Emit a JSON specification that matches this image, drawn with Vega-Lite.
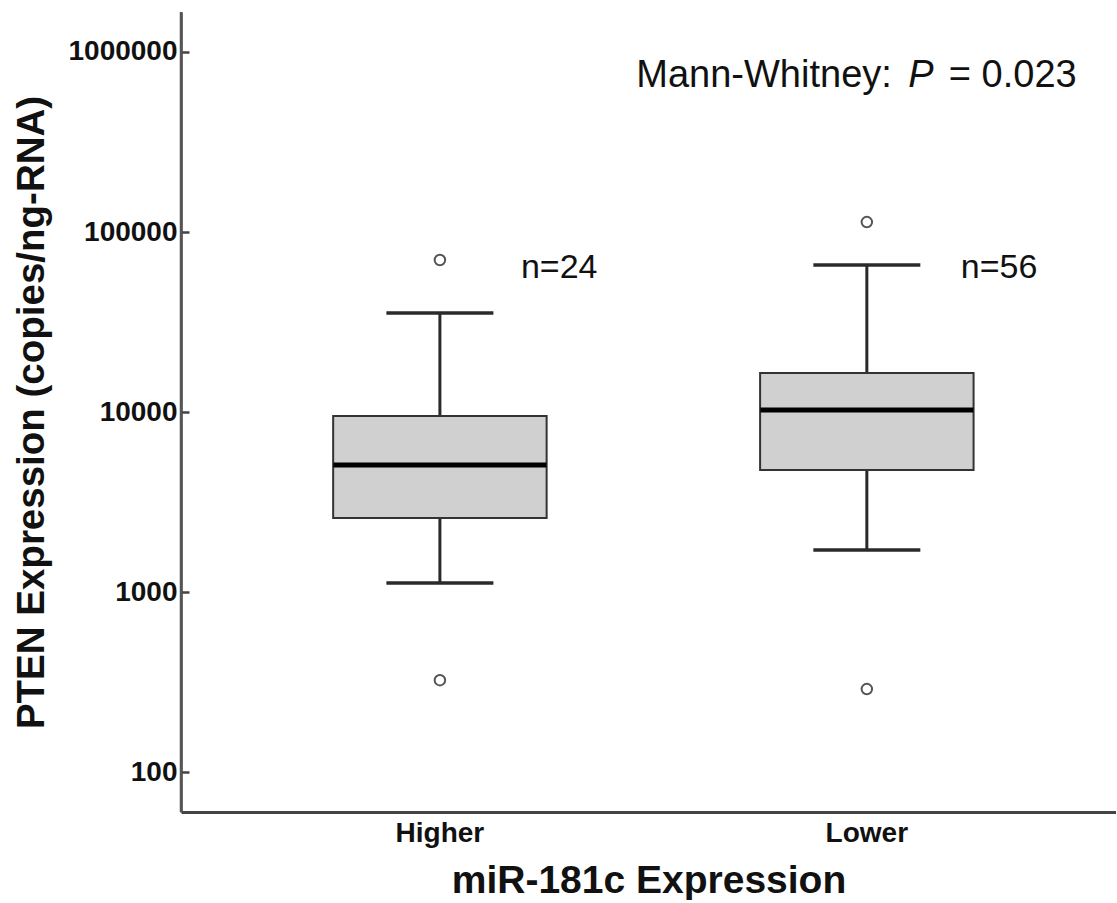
{
  "$schema": "https://vega.github.io/schema/vega-lite/v6.json",
  "width": 935,
  "height": 800,
  "padding": {"left": 12, "top": 10, "right": 0, "bottom": 0},
  "autosize": {"type": "pad"},
  "background": "white",
  "config": {
    "view": {"stroke": null},
    "font": "Liberation Sans",
    "axisY": {
      "grid": false,
      "labelFontSize": 28,
      "labelFontWeight": "bold",
      "labelColor": "#111111",
      "domainColor": "#444444",
      "domainWidth": 2.5,
      "tickColor": "#444444",
      "tickWidth": 2.5,
      "tickSize": -8,
      "labelPadding": 12,
      "titleFontSize": 38.5,
      "titleFontWeight": "bold",
      "titleColor": "#111111",
      "titlePadding": 16
    },
    "axisX": {
      "grid": false,
      "ticks": false,
      "labelAngle": 0,
      "labelFontSize": 28,
      "labelFontWeight": "bold",
      "labelColor": "#111111",
      "labelPadding": 7,
      "domainColor": "#444444",
      "domainWidth": 3,
      "titleFontSize": 39,
      "titleFontWeight": "bold",
      "titleColor": "#111111",
      "titlePadding": 14
    }
  },
  "datasets": {
    "stats": [
      {"group": "Higher", "lower": 1122, "q1": 2577, "median": 5080, "q3": 9506, "upper": 35481, "n": 24},
      {"group": "Lower", "lower": 1710, "q1": 4760, "median": 10260, "q3": 16480, "upper": 65600, "n": 56}
    ],
    "outliers": [
      {"group": "Higher", "value": 69900},
      {"group": "Higher", "value": 324},
      {"group": "Lower", "value": 113600},
      {"group": "Lower", "value": 289}
    ],
    "annotation": [
      {"test": "Mann-Whitney", "p": "0.023"}
    ]
  },
  "encoding": {
    "x": {
      "field": "group",
      "type": "nominal",
      "title": "miR-181c Expression",
      "scale": {"type": "band", "domain": ["Higher", "Lower"], "paddingInner": 0, "paddingOuter": 0.095, "align": 0.56}
    }
  },
  "layer": [
    {
      "data": {"name": "stats"},
      "mark": {"type": "rule", "stroke": "#2a2a2a", "strokeWidth": 3},
      "encoding": {
        "y": {
          "field": "lower",
          "type": "quantitative",
          "title": "PTEN Expression (copies/ng-RNA)",
          "scale": {"type": "log", "domain": [60, 1668000], "nice": false},
          "axis": {"values": [100, 1000, 10000, 100000, 1000000], "format": "d"}
        },
        "y2": {"field": "upper"}
      }
    },
    {
      "data": {"name": "stats"},
      "mark": {"type": "tick", "color": "#2a2a2a", "opacity": 1, "size": 107, "thickness": 3.5},
      "encoding": {
        "y": {"field": "upper", "type": "quantitative", "title": "PTEN Expression (copies/ng-RNA)"}
      }
    },
    {
      "data": {"name": "stats"},
      "mark": {"type": "tick", "color": "#2a2a2a", "opacity": 1, "size": 107, "thickness": 3.5},
      "encoding": {
        "y": {"field": "lower", "type": "quantitative", "title": "PTEN Expression (copies/ng-RNA)"}
      }
    },
    {
      "data": {"name": "stats"},
      "mark": {"type": "bar", "fill": "#d0d0d0", "stroke": "#333333", "strokeWidth": 2, "width": {"band": 0.5}},
      "encoding": {
        "y": {"field": "q1", "type": "quantitative", "title": "PTEN Expression (copies/ng-RNA)"},
        "y2": {"field": "q3"}
      }
    },
    {
      "data": {"name": "stats"},
      "mark": {"type": "tick", "color": "#000000", "opacity": 1, "size": 213, "thickness": 5},
      "encoding": {
        "y": {"field": "median", "type": "quantitative", "title": "PTEN Expression (copies/ng-RNA)"}
      }
    },
    {
      "data": {"name": "outliers"},
      "mark": {"type": "point", "shape": "circle", "filled": false, "fill": "white", "stroke": "#555555", "strokeWidth": 2, "size": 110, "opacity": 1},
      "encoding": {
        "y": {"field": "value", "type": "quantitative", "title": "PTEN Expression (copies/ng-RNA)"}
      }
    },
    {
      "data": {"name": "stats"},
      "transform": [
        {"filter": "datum.group === 'Higher'"},
        {"calculate": "'n=' + datum.n", "as": "label"}
      ],
      "mark": {"type": "text", "align": "left", "baseline": "alphabetic", "fontSize": 34, "color": "#111111", "dx": 81},
      "encoding": {
        "y": {"datum": 55500},
        "text": {"field": "label"}
      }
    },
    {
      "data": {"name": "stats"},
      "transform": [
        {"filter": "datum.group === 'Lower'"},
        {"calculate": "'n=' + datum.n", "as": "label"}
      ],
      "mark": {"type": "text", "align": "left", "baseline": "alphabetic", "fontSize": 34, "color": "#111111", "dx": 94},
      "encoding": {
        "y": {"datum": 55500},
        "text": {"field": "label"}
      }
    },
    {
      "data": {"name": "annotation"},
      "transform": [{"calculate": "datum.test + ':'", "as": "label"}],
      "mark": {"type": "text", "align": "right", "baseline": "alphabetic", "fontSize": 38, "color": "#111111", "dx": 25},
      "encoding": {
        "x": {"datum": "Lower"},
        "y": {"datum": 639000},
        "text": {"field": "label"}
      }
    },
    {
      "data": {"name": "annotation"},
      "mark": {"type": "text", "align": "center", "baseline": "alphabetic", "fontSize": 38, "fontStyle": "italic", "color": "#111111", "dx": 54},
      "encoding": {
        "x": {"datum": "Lower"},
        "y": {"datum": 639000},
        "text": {"value": "P"}
      }
    },
    {
      "data": {"name": "annotation"},
      "transform": [{"calculate": "'= ' + datum.p", "as": "label"}],
      "mark": {"type": "text", "align": "left", "baseline": "alphabetic", "fontSize": 38, "color": "#111111", "dx": 82},
      "encoding": {
        "x": {"datum": "Lower"},
        "y": {"datum": 639000},
        "text": {"field": "label"}
      }
    },
    {
      "data": {"name": "annotation"},
      "mark": {"type": "rule", "stroke": "#555555", "strokeWidth": 2.5},
      "encoding": {
        "y": {"datum": 1668000}
      }
    }
  ]
}
